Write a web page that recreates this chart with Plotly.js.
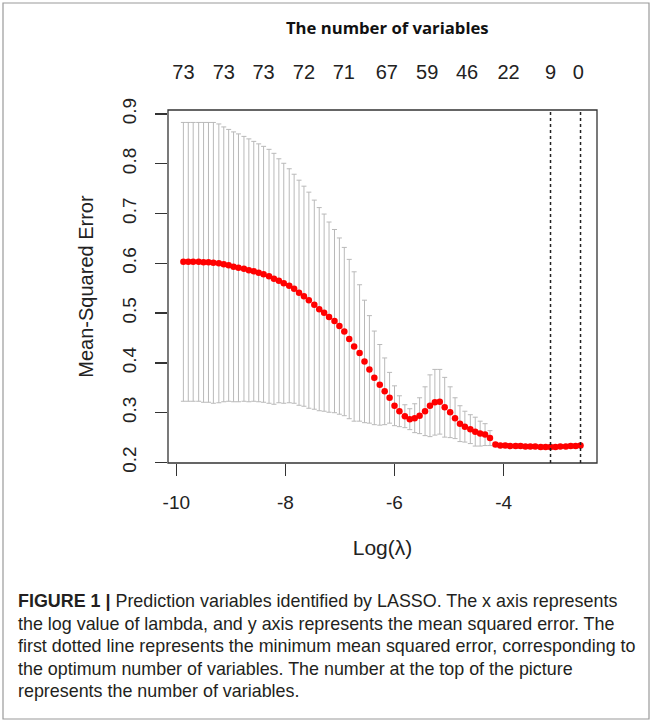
<!DOCTYPE html>
<html>
<head>
<meta charset="utf-8">
<script src="https://cdn.plot.ly/plotly-3.0.1.min.js"></script>
<style>
  html, body { margin: 0; padding: 0; background: #ffffff; }
  #chart { width: 652px; height: 722px; }
</style>
</head>
<body>
<div id="chart"></div>
<script>
// log(lambda) for each fitted lambda
const logLambda = [
  -9.87, -9.78, -9.69, -9.59, -9.50, -9.41, -9.32, -9.22, -9.13, -9.04,
  -8.95, -8.86, -8.76, -8.67, -8.58, -8.49, -8.40, -8.30, -8.21, -8.12,
  -8.03, -7.93, -7.84, -7.75, -7.66, -7.57, -7.47, -7.38, -7.29, -7.20,
  -7.10, -7.01, -6.92, -6.83, -6.74, -6.64, -6.55, -6.46, -6.37, -6.27,
  -6.18, -6.09, -6.00, -5.91, -5.81, -5.72, -5.63, -5.54, -5.44, -5.35,
  -5.26, -5.17, -5.08, -4.98, -4.89, -4.80, -4.71, -4.61, -4.52, -4.43,
  -4.34, -4.25, -4.15, -4.06, -3.97, -3.88, -3.78, -3.69, -3.60, -3.51,
  -3.42, -3.32, -3.23, -3.14, -3.05, -2.96, -2.86, -2.77, -2.68, -2.59
];
// cross-validated mean squared error
const cvMean = [
  0.603, 0.603, 0.603, 0.603, 0.602, 0.602, 0.601, 0.600, 0.598, 0.596,
  0.593, 0.591, 0.589, 0.586, 0.584, 0.581, 0.578, 0.574, 0.569, 0.565,
  0.560, 0.555, 0.549, 0.541, 0.534, 0.526, 0.517, 0.508, 0.501, 0.492,
  0.484, 0.474, 0.463, 0.448, 0.433, 0.420, 0.403, 0.387, 0.370, 0.356,
  0.343, 0.330, 0.314, 0.303, 0.293, 0.287, 0.289, 0.294, 0.303, 0.314,
  0.321, 0.322, 0.311, 0.301, 0.289, 0.278, 0.272, 0.267, 0.262, 0.258,
  0.256, 0.249, 0.236, 0.234, 0.234, 0.233, 0.233, 0.233, 0.232, 0.232,
  0.232, 0.231, 0.231, 0.231, 0.231, 0.232, 0.232, 0.233, 0.233, 0.234
];
// standard error (half-length of each error bar)
const cvSd = [
  0.280, 0.280, 0.280, 0.280, 0.281, 0.281, 0.282, 0.280, 0.276, 0.273,
  0.271, 0.269, 0.266, 0.264, 0.261, 0.259, 0.257, 0.255, 0.252, 0.245,
  0.241, 0.235, 0.230, 0.226, 0.221, 0.217, 0.210, 0.204, 0.198, 0.191,
  0.184, 0.177, 0.169, 0.160, 0.150, 0.137, 0.123, 0.108, 0.094, 0.081,
  0.067, 0.051, 0.040, 0.031, 0.023, 0.021, 0.029, 0.036, 0.049, 0.062,
  0.066, 0.065, 0.060, 0.051, 0.041, 0.036, 0.031, 0.029, 0.029, 0.025,
  0.022, 0.015, 0.004, 0.004, 0.004, 0.004, 0.004, 0.004, 0.004, 0.004,
  0.004, 0.004, 0.004, 0.004, 0.004, 0.004, 0.004, 0.004, 0.004, 0.004
];
// number of non-zero variables shown on top axis
const nzLabels = ["73", "73", "73", "72", "71", "67", "59", "46", "22", "9", "0"];
const nzPositions = [-9.87, -9.13, -8.40, -7.66, -6.93, -6.14, -5.40, -4.67, -3.91, -3.14, -2.63];
// bottom / left tick labels
const xTickVals = [-10, -8, -6, -4];
const xTickText = ["-10", "-8", "-6", "-4"];
const yTickVals = [0.2, 0.3, 0.4, 0.5, 0.6, 0.7, 0.8, 0.9];
const yTickText = ["0.2", "0.3", "0.4", "0.5", "0.6", "0.7", "0.8", "0.9"];
// lambda.min and lambda.1se (dotted lines)
const lambdaMin = -3.14;
const lambda1se = -2.59;
// caption lines
const captionLines = [
  "<b>FIGURE 1 |</b> Prediction variables identified by LASSO. The x axis represents",
  "the log value of lambda, and y axis represents the mean squared error. The",
  "first dotted line represents the minimum mean squared error, corresponding to",
  "the optimum number of variables. The number at the top of the picture",
  "represents the number of variables."
];

const xRange = [-10.152, -2.288];
const yRange = [0.199, 0.908];

// plot-area pixel geometry (for placing paper-referenced items)
const PL = 168, PT = 110, PW = 429, PH = 353;
const px2paperX = (px) => (px - PL) / PW;
const px2paperY = (py) => (PT + PH - py) / PH;

const tickFont = { family: "Liberation Sans, Arial, sans-serif", size: 19, color: "#222222" };

const traces = [
  {
    x: logLambda,
    y: cvMean,
    type: "scatter",
    mode: "markers",
    marker: { color: "#ff0000", size: 6.5, line: { width: 0 } },
    error_y: {
      type: "data",
      array: cvSd,
      symmetric: true,
      color: "#b9b9b9",
      thickness: 1,
      width: 2.5
    },
    hoverinfo: "x+y",
    showlegend: false
  },
  {
    x: nzPositions,
    y: nzPositions.map(() => 0.5),
    xaxis: "x2",
    yaxis: "y",
    type: "scatter",
    mode: "markers",
    marker: { opacity: 0 },
    hoverinfo: "skip",
    showlegend: false
  }
];

const captionAnnotations = captionLines.map((line, i) => ({
  text: line,
  xref: "paper", yref: "paper",
  x: px2paperX(16), y: px2paperY(601 + i * 22.5),
  xanchor: "left", yanchor: "middle", align: "left",
  showarrow: false,
  font: { family: "Liberation Sans, Arial, sans-serif", size: 17.9, color: "#231f20" }
}));

const layout = {
  width: 652,
  height: 722,
  margin: { l: PL, r: 652 - PL - PW, t: PT, b: 722 - PT - PH, pad: 0 },
  paper_bgcolor: "#ffffff",
  plot_bgcolor: "#ffffff",
  title: {
    text: "<b>The number of variables</b>",
    font: { family: "Open Sans, sans-serif", size: 16.7, color: "#111111" },
    xref: "container", yref: "container",
    x: 0.594, y: 1 - 28 / 722,
    xanchor: "center", yanchor: "middle"
  },
  xaxis: {
    range: xRange,
    showgrid: false, zeroline: false, showline: false,
    ticks: "outside", ticklen: 12, tickwidth: 1.3, tickcolor: "#333333",
    tickvals: xTickVals, ticktext: xTickText,
    tickfont: tickFont,
    ticklabelstandoff: 10,
    title: {
      text: "Log(λ)",
      font: { family: "Liberation Sans, Arial, sans-serif", size: 21, color: "#222222" },
      standoff: 28
    },
    automargin: false
  },
  xaxis2: {
    range: xRange,
    overlaying: "x",
    side: "top",
    anchor: "y",
    showgrid: false, zeroline: false, showline: false,
    ticks: "",
    tickvals: nzPositions, ticktext: nzLabels,
    tickfont: { family: "Liberation Sans, Arial, sans-serif", size: 20, color: "#222222" },
    ticklabelstandoff: 26,
    automargin: false
  },
  yaxis: {
    range: yRange,
    showgrid: false, zeroline: false, showline: false,
    ticks: "outside", ticklen: 12, tickwidth: 1.3, tickcolor: "#333333",
    tickvals: yTickVals, ticktext: yTickText,
    tickangle: -90,
    tickfont: tickFont,
    ticklabelstandoff: 11,
    title: {
      text: "Mean-Squared Error",
      font: { family: "Liberation Sans, Arial, sans-serif", size: 20, color: "#222222" },
      standoff: 20
    },
    automargin: false
  },
  shapes: [
    { type: "rect", xref: "paper", yref: "paper", x0: 0, x1: 1, y0: 0, y1: 1,
      line: { color: "#333333", width: 1.3 }, fillcolor: "rgba(0,0,0,0)", layer: "above" },
    { type: "line", xref: "x", yref: "paper", x0: lambdaMin, x1: lambdaMin, y0: 0, y1: 1,
      line: { color: "#222222", width: 1.5, dash: "dot" } },
    { type: "line", xref: "x", yref: "paper", x0: lambda1se, x1: lambda1se, y0: 0, y1: 1,
      line: { color: "#222222", width: 1.5, dash: "dot" } },
    { type: "rect", xref: "paper", yref: "paper",
      x0: px2paperX(3), x1: px2paperX(649), y0: px2paperY(719), y1: px2paperY(3),
      line: { color: "#9a9a9a", width: 1.2 }, fillcolor: "rgba(0,0,0,0)", layer: "below" }
  ],
  annotations: captionAnnotations
};

Plotly.newPlot("chart", traces, layout, { displayModeBar: false, staticPlot: true });
</script>
</body>
</html>
